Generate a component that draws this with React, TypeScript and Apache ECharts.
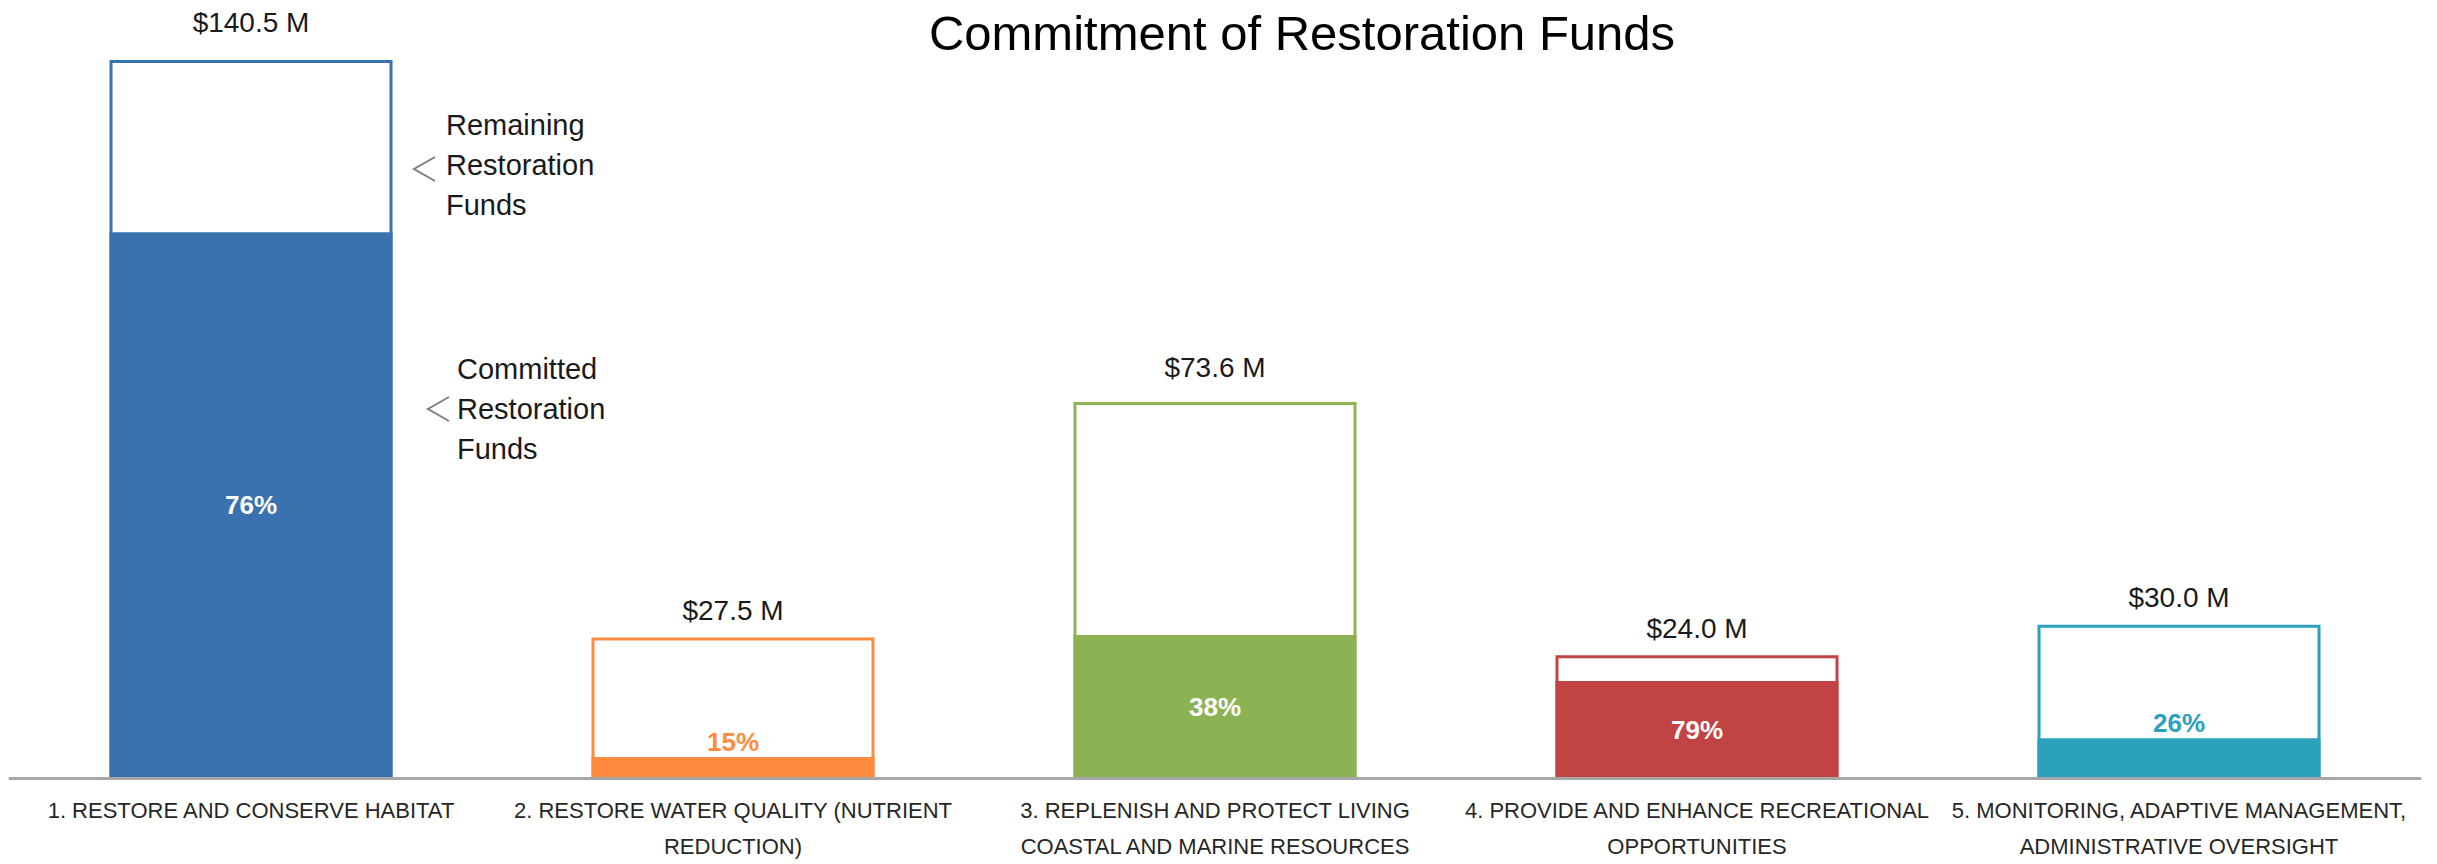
import React, { useEffect, useRef } from "react";
import * as echarts from "echarts";

const categories = [
  "1. RESTORE AND CONSERVE HABITAT",
  "2. RESTORE WATER QUALITY (NUTRIENT\nREDUCTION)",
  "3. REPLENISH AND PROTECT LIVING\nCOASTAL AND MARINE RESOURCES",
  "4. PROVIDE AND ENHANCE RECREATIONAL\nOPPORTUNITIES",
  "5. MONITORING, ADAPTIVE MANAGEMENT,\nADMINISTRATIVE OVERSIGHT",
];
const totalFunds = [140.5, 27.5, 73.6, 24.0, 30.0];
const committedPct = [76, 15, 38, 79, 26];
const totalLabels = ["$140.5 M", "$27.5 M", "$73.6 M", "$24.0 M", "$30.0 M"];
const barColors = ["#3a72b0", "#ff8b3e", "#8db254", "#c04444", "#2aa1bd"];

const FONT = "'Liberation Sans', Arial, sans-serif";

export default function App() {
  const ref = useRef<HTMLDivElement>(null);

  useEffect(() => {
    if (!ref.current) return;
    const chart = echarts.init(ref.current, null, { renderer: "svg" });

    const committed = totalFunds.map((t, i) => +(t * committedPct[i] / 100).toFixed(2));
    const topDistance = [24, 13, 20, 13, 13];

    const option: any = {
      animation: false,
      backgroundColor: "#ffffff",
      textStyle: { fontFamily: FONT },
      grid: { left: 10, right: 17, top: 60, bottom: 81, containLabel: false },
      xAxis: {
        type: "category",
        data: categories,
        axisTick: { show: false },
        axisLine: { show: true, lineStyle: { color: "#a6a6a6", width: 3 } },
        axisLabel: {
          interval: 0,
          fontSize: 22,
          lineHeight: 36,
          margin: 14,
          color: "#262626",
          fontFamily: FONT,
        },
        z: 10,
      },
      yAxis: {
        type: "value",
        min: 0,
        max: 140.5,
        show: false,
        splitLine: { show: false },
      },
      series: [
        {
          name: "Remaining Restoration Funds",
          type: "bar",
          barWidth: 283,
          barGap: "-100%",
          data: totalFunds.map((v, i) => ({
            value: v,
            itemStyle: { color: "#ffffff", borderColor: barColors[i], borderWidth: 3 },
            label: { distance: topDistance[i] },
          })),
          label: {
            show: true,
            position: "top",
            fontSize: 28,
            lineHeight: 28,
            color: "#1a1a1a",
            fontFamily: FONT,
            formatter: (p: any) => totalLabels[p.dataIndex],
          },
        },
        {
          name: "Committed Restoration Funds",
          type: "bar",
          barWidth: 283,
          barGap: "-100%",
          data: committed.map((v, i) => {
            const outside = v < 10;
            return {
              value: v,
              itemStyle: { color: barColors[i] },
              label: outside
                ? { position: "top", distance: 2, color: barColors[i] }
                : { position: "inside", color: "#ffffff" },
            };
          }),
          label: {
            show: true,
            fontSize: 26,
            lineHeight: 26,
            fontWeight: "bold",
            fontFamily: FONT,
            formatter: (p: any) => committedPct[p.dataIndex] + "%",
          },
        },
      ],
      graphic: [
        {
          type: "text",
          x: 1302,
          y: 33,
          style: {
            text: "Commitment of Restoration Funds",
            font: `49px ${FONT}`,
            fill: "#000000",
            textAlign: "center",
            textVerticalAlign: "middle",
          },
        },
        {
          type: "text",
          x: 446,
          y: 165,
          style: {
            text: "Remaining\nRestoration\nFunds",
            font: `29px ${FONT}`,
            lineHeight: 40,
            fill: "#1a1a1a",
            textAlign: "left",
            textVerticalAlign: "middle",
          },
        },
        {
          type: "polyline",
          shape: { points: [[435, 157], [414, 169], [435, 181]] },
          style: { stroke: "#7f7f7f", lineWidth: 2, fill: "none" },
        },
        {
          type: "text",
          x: 457,
          y: 409,
          style: {
            text: "Committed\nRestoration\nFunds",
            font: `29px ${FONT}`,
            lineHeight: 40,
            fill: "#1a1a1a",
            textAlign: "left",
            textVerticalAlign: "middle",
          },
        },
        {
          type: "polyline",
          shape: { points: [[449, 397], [428, 409], [449, 421]] },
          style: { stroke: "#7f7f7f", lineWidth: 2, fill: "none" },
        },
      ],
    };

    chart.setOption(option);
    return () => chart.dispose();
  }, []);

  return (
    <div
      ref={ref}
      style={{ position: "absolute", left: 0, top: 0, width: 2437, height: 864 }}
    />
  );
}
